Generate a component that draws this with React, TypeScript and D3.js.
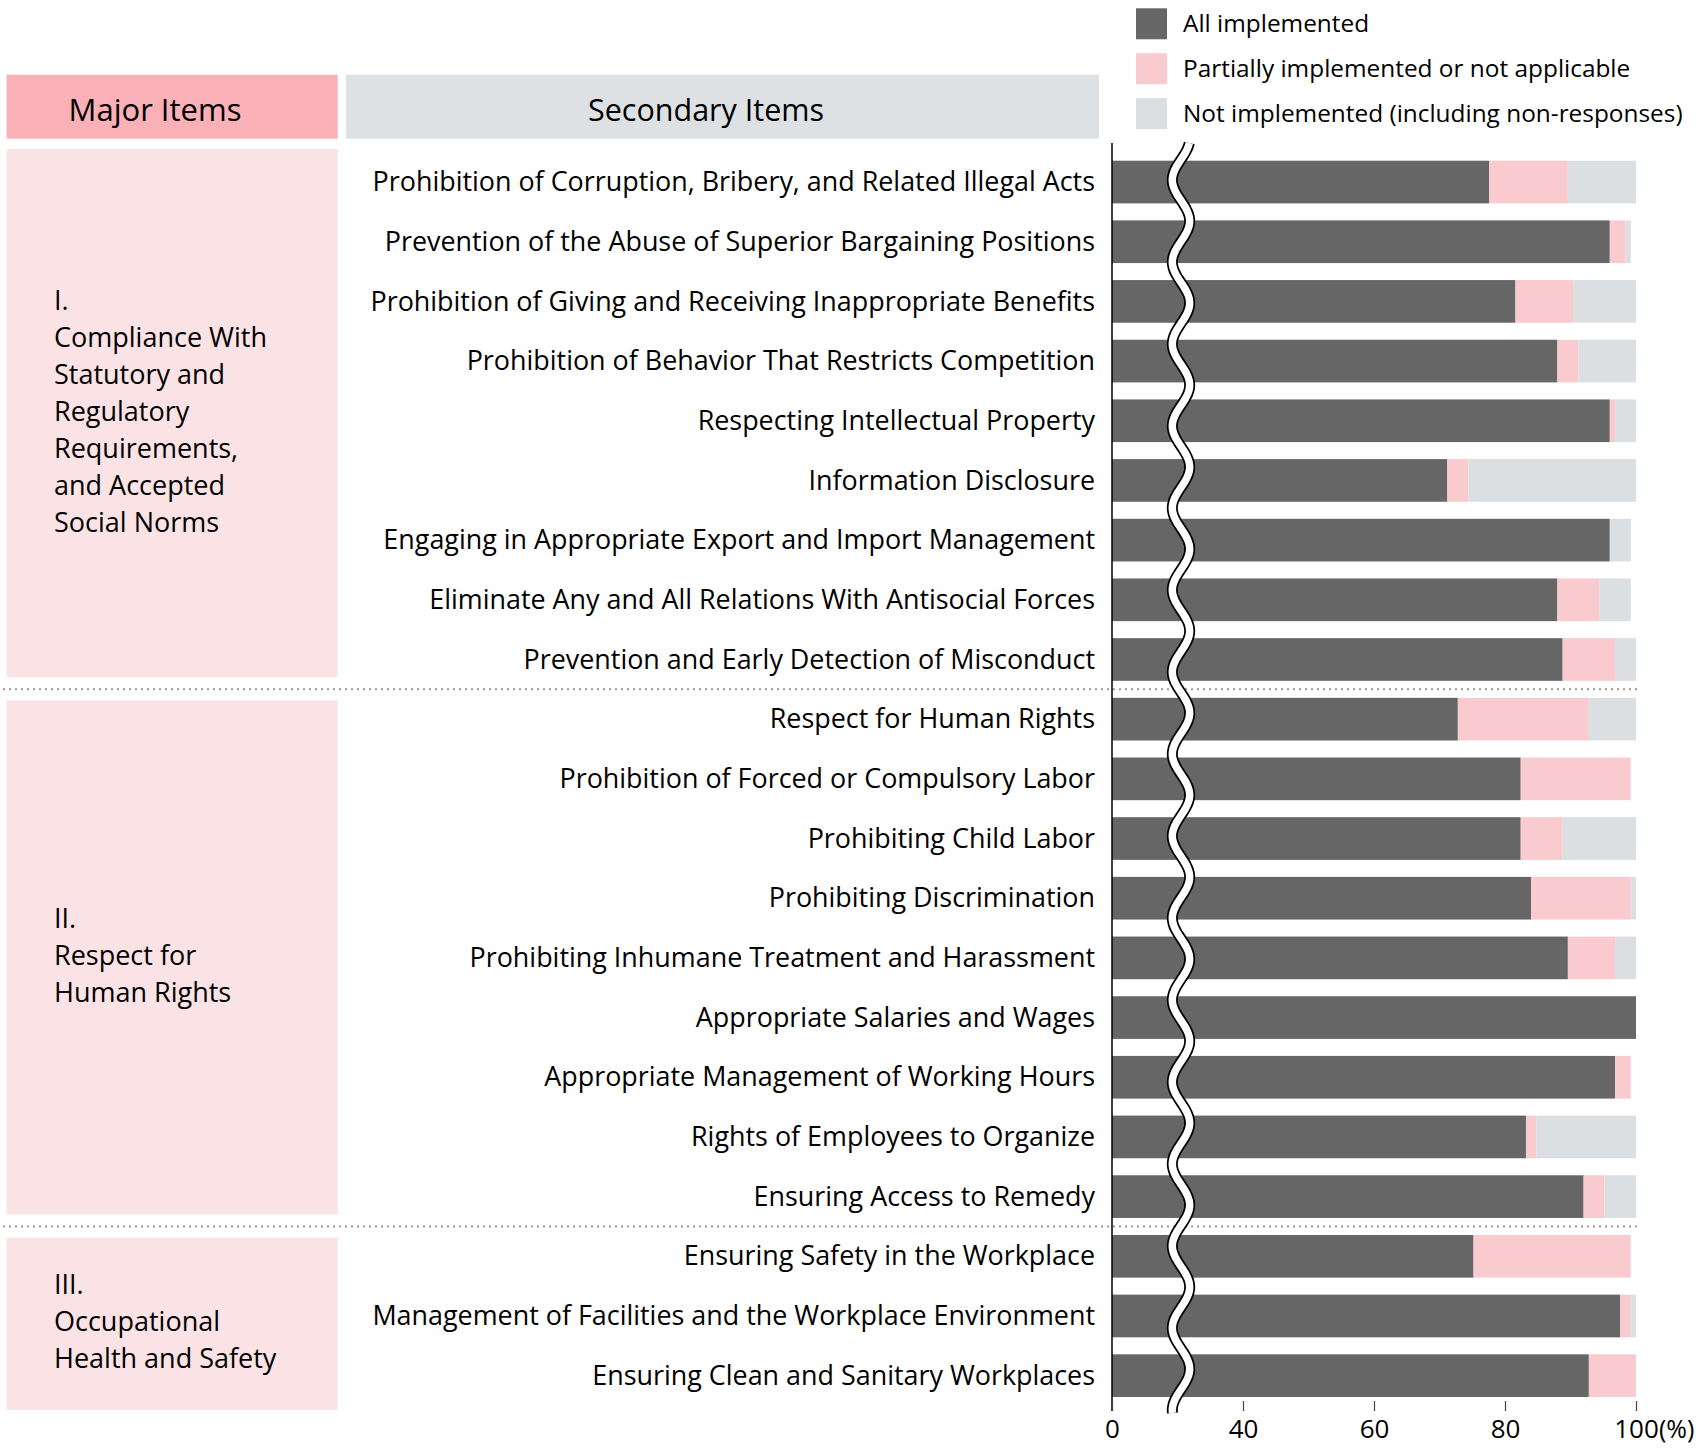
import React, { useEffect, useRef } from 'react';
import * as d3 from 'd3';

// Major item labels, one entry per line
const majorItems = [
  ['I.', 'Compliance With', 'Statutory and', 'Regulatory', 'Requirements,', 'and Accepted', 'Social Norms'],
  ['II.', 'Respect for', 'Human Rights'],
  ['III.', 'Occupational', 'Health and Safety'],
];
const groupSizes = [9, 9, 3];

const secondaryItems = [
  'Prohibition of Corruption, Bribery, and Related Illegal Acts',
  'Prevention of the Abuse of Superior Bargaining Positions',
  'Prohibition of Giving and Receiving Inappropriate Benefits',
  'Prohibition of Behavior That Restricts Competition',
  'Respecting Intellectual Property',
  'Information Disclosure',
  'Engaging in Appropriate Export and Import Management',
  'Eliminate Any and All Relations With Antisocial Forces',
  'Prevention and Early Detection of Misconduct',
  'Respect for Human Rights',
  'Prohibition of Forced or Compulsory Labor',
  'Prohibiting Child Labor',
  'Prohibiting Discrimination',
  'Prohibiting Inhumane Treatment and Harassment',
  'Appropriate Salaries and Wages',
  'Appropriate Management of Working Hours',
  'Rights of Employees to Organize',
  'Ensuring Access to Remedy',
  'Ensuring Safety in the Workplace',
  'Management of Facilities and the Workplace Environment',
  'Ensuring Clean and Sanitary Workplaces',
];

const allImplemented = [77.6, 96.0, 81.6, 88.0, 96.0, 71.2, 96.0, 88.0, 88.8, 72.8, 82.4, 82.4, 84.0, 89.6, 100, 96.8, 83.2, 92.0, 75.2, 97.6, 92.8];
const partiallyImplemented = [12.0, 2.4, 8.8, 3.2, 0.8, 3.2, 0, 6.4, 8.0, 20.0, 16.8, 6.4, 15.2, 7.2, 0, 2.4, 1.6, 3.2, 24.0, 1.6, 7.2];
const notImplemented = [10.4, 0.8, 9.6, 8.8, 3.2, 25.6, 3.2, 4.8, 3.2, 7.2, 0, 11.2, 0.8, 3.2, 0, 0, 15.2, 4.8, 0, 0.8, 0];

const seriesKeys = ['all', 'partial', 'none'];
const seriesNames = [
  'All implemented',
  'Partially implemented or not applicable',
  'Not implemented (including non-responses)',
];
const xTicks = [0, 40, 60, 80, 100];

export default function App() {
  const svgRef = useRef<SVGSVGElement>(null);

  useEffect(() => {
    document.body.style.margin = '0';
    if (!svgRef.current) return;
    const svg = d3.select(svgRef.current);
    svg.selectAll('*').remove();

    const font = '"Open Sans", "Noto Sans", sans-serif';
    const color = d3.scaleOrdinal<string, string>()
      .domain(seriesKeys)
      .range(['#666666', '#f9cbcf', '#dcdfe2']);

    // broken axis: 0 sits where 20 would be
    const x = d3.scaleLinear().domain([0, 40, 100]).range([1112, 1243, 1636]);
    const y = d3.scaleBand<number>()
      .domain(d3.range(secondaryItems.length))
      .range([160.7, 1397])
      .paddingInner(0.285);
    const bw = y.bandwidth();

    const rows = secondaryItems.map((name, i) => ({
      name,
      all: allImplemented[i],
      partial: partiallyImplemented[i],
      none: notImplemented[i],
    }));
    const stacked = d3.stack<any>().keys(seriesKeys)(rows);

    // group boundaries
    const starts = groupSizes.map((_, g) => d3.sum(groupSizes.slice(0, g)));
    const seps = starts.slice(1).map(s => (y(s - 1)! + bw + y(s)!) / 2);

    // header boxes
    svg.append('rect').attr('x', 6.7).attr('y', 74.7).attr('width', 331).attr('height', 64)
      .attr('fill', '#f9b1b7');
    svg.append('text').attr('x', 155).attr('y', 121).attr('text-anchor', 'middle')
      .attr('font-family', font).attr('font-size', 31).text('Major Items');
    svg.append('rect').attr('x', 346).attr('y', 74.7).attr('width', 753).attr('height', 64)
      .attr('fill', '#dde1e4');
    svg.append('text').attr('x', 706).attr('y', 121).attr('text-anchor', 'middle')
      .attr('font-family', font).attr('font-size', 30.5).text('Secondary Items');

    // group boxes and labels
    majorItems.forEach((lines, g) => {
      const top = g === 0 ? y(0)! - 11.7 : seps[g - 1] + 11;
      const last = starts[g] + groupSizes[g] - 1;
      const bottom = g === groupSizes.length - 1 ? y(last)! + bw + 13 : seps[g] - 12;
      svg.append('rect').attr('x', 6.7).attr('y', top).attr('width', 331).attr('height', bottom - top)
        .attr('fill', '#fbe3e5');
      const mid = (top + bottom) / 2;
      svg.append('g').selectAll('text').data(lines).enter().append('text')
        .attr('x', 54)
        .attr('y', (_, i) => mid + (i - (lines.length - 1) / 2) * 37 + 7.5)
        .attr('font-family', font).attr('font-size', 27).attr('fill', '#000')
        .text(d => d);
    });

    // dotted separators
    svg.append('g').selectAll('line').data(seps).enter().append('line')
      .attr('x1', 3).attr('x2', 1640).attr('y1', d => d).attr('y2', d => d)
      .attr('stroke', '#999').attr('stroke-width', 2).attr('stroke-dasharray', '2 4');

    // row labels
    svg.append('g').selectAll('text').data(secondaryItems).enter().append('text')
      .attr('x', 1095).attr('y', (_, i) => y(i)! + bw / 2).attr('dy', '0.34em')
      .attr('text-anchor', 'end').attr('font-family', font).attr('font-size', 26.9).attr('fill', '#000')
      .text(d => d);

    // bars
    svg.append('g').selectAll('g').data(stacked).enter().append('g')
      .attr('fill', d => color(d.key))
      .selectAll('rect').data(d => d).enter().append('rect')
      .attr('x', d => x(d[0]))
      .attr('y', (_, i) => y(i)!)
      .attr('width', d => Math.max(0, x(d[1]) - x(d[0])))
      .attr('height', bw);

    // axis line
    svg.append('line').attr('x1', 1112).attr('x2', 1112).attr('y1', 143).attr('y2', 1411)
      .attr('stroke', '#000').attr('stroke-width', 1.5);

    const axis = svg.append('g').attr('transform', 'translate(0,1401)')
      .call(d3.axisBottom(x).tickValues(xTicks).tickSize(10).tickPadding(8.5).tickFormat(d3.format('d')));
    axis.select('.domain').remove();
    axis.selectAll('.tick line').attr('stroke', '#444').attr('stroke-width', 1.2);
    axis.selectAll('.tick text').attr('font-family', font).attr('font-size', 26).attr('fill', '#000');
    svg.append('text').attr('x', 1659).attr('y', 1438).attr('font-family', font).attr('font-size', 25)
      .text('(%)');

    // wave break marker
    const wave = d3.range(143, 1414, 2).map(yy => [1181 - 8.7 * Math.cos((2 * Math.PI * (yy - 180)) / 82), yy] as [number, number]);
    const line = d3.line().curve(d3.curveBasis);
    svg.append('path').attr('d', line(wave)).attr('fill', 'none').attr('stroke', '#000').attr('stroke-width', 11);
    svg.append('path').attr('d', line(wave)).attr('fill', 'none').attr('stroke', '#fff').attr('stroke-width', 7.5);

    // legend
    const legend = svg.append('g').selectAll('g').data(seriesKeys).enter().append('g')
      .attr('transform', (_, i) => `translate(1136,${8.3 + i * 44.9})`);
    legend.append('rect').attr('width', 31).attr('height', 31).attr('fill', d => color(d));
    legend.append('text').attr('x', 47).attr('y', 23.5).attr('font-family', font).attr('font-size', 24.4)
      .attr('fill', '#000').text((_, i) => seriesNames[i]);
  }, []);

  return <svg ref={svgRef} width={1696} height={1449} style={{ display: 'block' }} />;
}
